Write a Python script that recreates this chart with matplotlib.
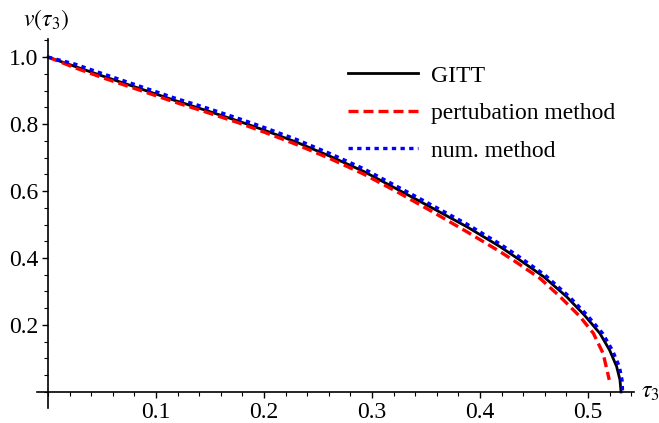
import matplotlib.pyplot as plt
from matplotlib.ticker import MultipleLocator, FormatStrFormatter

plt.rcParams['font.family'] = 'Liberation Serif'
plt.rcParams['mathtext.fontset'] = 'stix'

# values
tau_gitt = [0, 0.025, 0.05, 0.085, 0.116, 0.147, 0.178, 0.2, 0.23, 0.261, 0.292, 0.323,
            0.356, 0.388, 0.4185, 0.4355, 0.459, 0.48, 0.4965, 0.511, 0.52, 0.5265, 0.5296, 0.5306]
v_gitt = [1.0, 0.972, 0.944, 0.906, 0.872, 0.84, 0.807, 0.782, 0.746, 0.704, 0.659, 0.606,
          0.549, 0.493, 0.434, 0.397, 0.344, 0.285, 0.23, 0.175, 0.125, 0.076, 0.036, 0.0]

tau_pert = [0, 0.025, 0.05, 0.085, 0.116, 0.147, 0.178, 0.2, 0.23, 0.261, 0.292, 0.323,
            0.356, 0.388, 0.4185, 0.4324, 0.4556, 0.474, 0.4926, 0.505, 0.514, 0.5197]
v_pert = [1.0, 0.968, 0.939, 0.901, 0.867, 0.835, 0.802, 0.776, 0.739, 0.697, 0.651, 0.598,
          0.538, 0.478, 0.419, 0.39, 0.339, 0.285, 0.225, 0.175, 0.115, 0.036]

tau_num = [0, 0.025, 0.05, 0.085, 0.116, 0.147, 0.178, 0.2, 0.23, 0.261, 0.292, 0.323,
           0.356, 0.388, 0.4185, 0.437, 0.4605, 0.4825, 0.499, 0.5135, 0.5225, 0.529, 0.5315, 0.532]
v_num = [1.0, 0.979, 0.951, 0.913, 0.879, 0.848, 0.815, 0.79, 0.754, 0.712, 0.667, 0.614,
         0.557, 0.501, 0.442, 0.402, 0.348, 0.285, 0.23, 0.175, 0.125, 0.076, 0.036, 0.0]

fig = plt.figure(figsize=(6.59, 4.23), dpi=100)
ax = fig.add_axes([37 / 659, 15 / 423, 597 / 659, 369 / 423])

ax.plot(tau_gitt, v_gitt, color='black', lw=2, label='GITT')
ax.plot(tau_pert, v_pert, color='red', lw=2.4, dashes=(3.0, 1.5), label='pertubation method')
ax.plot(tau_num, v_num, color='blue', lw=2.4, dashes=(1.3, 1.3), label='num. method')

ax.set_xlim(-0.0102, 0.5426)
ax.set_ylim(-0.048, 1.054)

# maple style axes through the origin
for s in ['top', 'right']:
    ax.spines[s].set_visible(False)
ax.spines['left'].set_position(('data', 0))
ax.spines['bottom'].set_position(('data', 0))
ax.spines['left'].set_linewidth(1.2)
ax.spines['bottom'].set_linewidth(1.2)

ax.xaxis.set_minor_locator(MultipleLocator(0.02))
ax.yaxis.set_minor_locator(MultipleLocator(0.05))
ax.xaxis.set_major_formatter(FormatStrFormatter('%.1f'))
ax.yaxis.set_major_formatter(FormatStrFormatter('%.1f'))
ax.set_xticks([0.1, 0.2, 0.3, 0.4, 0.5])
ax.set_yticks([0.2, 0.4, 0.6, 0.8, 1.0])
ax.tick_params(which='major', length=4, width=1, labelsize=17, pad=3)
ax.tick_params(which='minor', length=3, width=0.8)

fig.text(46 / 659, 1 - 20 / 423, r'$v(\tau_3)$', fontsize=17, ha='center', va='center')
fig.text(650 / 659, 1 - 392 / 423, r'$\tau_3$', fontsize=17, ha='center', va='center')

ax.legend(loc='upper left', bbox_to_anchor=(348 / 659, 1 - 65 / 423),
          bbox_transform=fig.transFigure, frameon=False, fontsize=17,
          borderpad=0, borderaxespad=0, handlelength=2.96, handletextpad=0.54,
          labelspacing=0.68)

fig.savefig('out.png', dpi=100)
